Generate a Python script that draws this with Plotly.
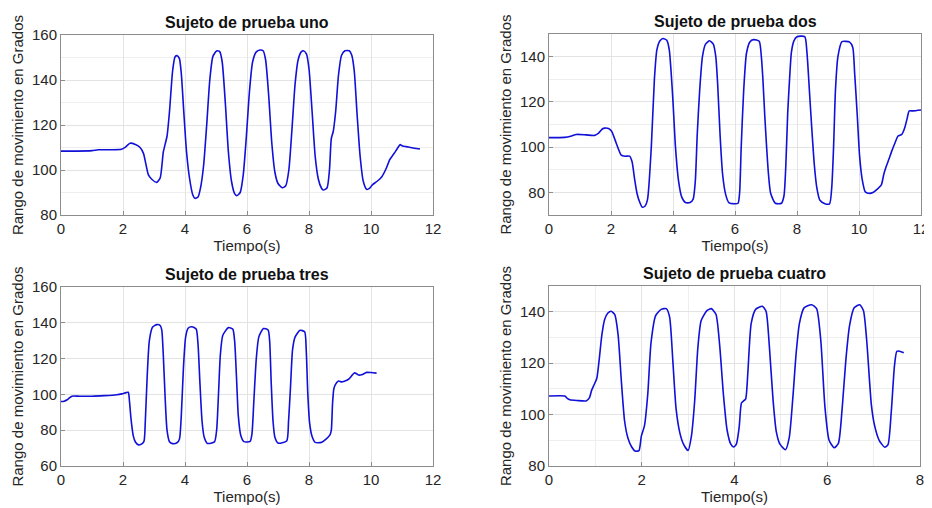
import plotly.graph_objects as go

# ---------------- data ----------------
t1 = [0, 0.5, 1.0, 1.2, 1.6, 1.95, 2.08, 2.23, 2.4, 2.55, 2.66, 2.74, 2.82, 2.92, 3.09, 3.2, 3.3, 3.36, 3.42, 3.5, 3.6, 3.68, 3.75, 3.82, 3.88, 3.96, 4.05, 4.15, 4.25, 4.32, 4.42, 4.5, 4.6, 4.7, 4.8, 4.9, 5.02, 5.12, 5.2, 5.3, 5.4, 5.5, 5.6, 5.67, 5.78, 5.88, 5.98, 6.08, 6.18, 6.3, 6.42, 6.52, 6.6, 6.7, 6.8, 6.9, 7.0, 7.14, 7.25, 7.35, 7.45, 7.55, 7.65, 7.75, 7.82, 7.92, 8.0, 8.1, 8.2, 8.3, 8.4, 8.46, 8.58, 8.66, 8.72, 8.78, 8.86, 8.95, 9.05, 9.16, 9.3, 9.38, 9.46, 9.55, 9.65, 9.75, 9.86, 9.95, 10.05, 10.2, 10.35, 10.5, 10.6, 10.7, 10.8, 10.88, 10.94, 11.0, 11.2, 11.4, 11.58]
v1 = [108.4, 108.4, 108.6, 109.0, 109.0, 109.2, 110.2, 111.9, 111.3, 110.0, 107.4, 102.5, 97.8, 96.0, 94.5, 96.5, 108.0, 111.5, 115.0, 126.0, 144.0, 150.3, 150.8, 149.5, 143.0, 126.0, 108.0, 96.0, 89.0, 87.4, 88.0, 92.0, 102.0, 120.0, 140.0, 150.5, 152.9, 152.6, 148.0, 130.0, 108.0, 95.0, 89.5, 88.6, 90.0, 98.0, 115.0, 135.0, 148.0, 152.5, 153.3, 153.0, 149.0, 133.0, 112.0, 99.0, 94.0, 92.1, 93.0, 100.0, 118.0, 138.0, 149.0, 152.5, 153.0, 151.5, 145.0, 126.0, 106.0, 96.0, 92.0, 91.1, 92.0, 100.0, 114.0, 117.0, 126.0, 142.0, 151.0, 153.0, 153.0, 151.0, 144.0, 125.0, 106.0, 95.0, 91.4, 91.8, 93.5, 95.0, 97.0, 101.0, 104.5, 106.5, 108.5, 110.2, 111.3, 110.8, 110.2, 109.7, 109.3]

t2 = [0, 0.5, 0.7, 0.88, 1.2, 1.47, 1.6, 1.72, 1.8, 1.92, 2.02, 2.17, 2.33, 2.45, 2.6, 2.68, 2.76, 2.84, 2.93, 3.01, 3.1, 3.18, 3.3, 3.4, 3.48, 3.58, 3.68, 3.8, 3.88, 3.94, 4.0, 4.08, 4.18, 4.28, 4.4, 4.55, 4.65, 4.72, 4.78, 4.86, 4.95, 5.05, 5.18, 5.3, 5.38, 5.44, 5.52, 5.6, 5.7, 5.8, 6.0, 6.1, 6.15, 6.2, 6.28, 6.37, 6.48, 6.6, 6.78, 6.85, 6.9, 6.96, 7.02, 7.08, 7.15, 7.3, 7.5, 7.58, 7.64, 7.7, 7.76, 7.82, 7.9, 8.0, 8.25, 8.32, 8.4, 8.48, 8.56, 8.64, 8.74, 8.9, 9.05, 9.12, 9.18, 9.24, 9.32, 9.45, 9.7, 9.8, 9.86, 9.94, 10.02, 10.1, 10.2, 10.3, 10.45, 10.58, 10.72, 10.8, 10.88, 10.96, 11.05, 11.15, 11.26, 11.38, 11.47, 11.55, 11.62, 11.74, 12.0]
v2 = [104.2, 104.3, 104.8, 105.6, 105.4, 105.2, 106.2, 108.0, 108.4, 108.2, 107.0, 101.7, 96.5, 96.0, 96.0, 93.5, 86.0, 79.5, 75.5, 73.4, 74.0, 77.0, 100.0, 130.0, 143.0, 147.0, 148.0, 147.2, 143.0, 133.0, 120.0, 100.0, 85.0, 78.0, 75.5, 75.5, 77.0, 85.0, 105.0, 125.0, 140.0, 145.5, 147.0, 145.5, 140.0, 128.0, 105.0, 88.0, 79.0, 75.5, 75.0, 75.2, 80.0, 100.0, 125.0, 141.5, 146.5, 147.5, 146.8, 140.0, 130.0, 114.0, 100.0, 88.0, 79.6, 75.2, 75.2, 78.5, 92.0, 115.0, 130.0, 142.0, 147.0, 148.8, 148.8, 142.0, 125.0, 107.6, 92.0, 82.0, 76.5, 75.0, 74.9, 82.0, 100.0, 125.0, 140.0, 146.6, 146.4, 144.0, 132.6, 115.0, 96.0, 86.0, 80.3, 79.6, 79.9, 81.3, 83.3, 88.0, 91.5, 94.5, 98.0, 101.5, 104.9, 105.6, 108.3, 112.5, 116.0, 116.0, 116.4]

t3 = [0, 0.1, 0.2, 0.27, 0.35, 0.6, 1.0, 1.4, 1.8, 1.96, 2.1, 2.17, 2.21, 2.26, 2.33, 2.4, 2.5, 2.62, 2.68, 2.72, 2.78, 2.85, 2.95, 3.09, 3.2, 3.25, 3.3, 3.36, 3.42, 3.5, 3.6, 3.74, 3.82, 3.88, 3.95, 4.02, 4.1, 4.22, 4.36, 4.42, 4.48, 4.55, 4.62, 4.72, 4.95, 5.02, 5.08, 5.14, 5.22, 5.4, 5.54, 5.6, 5.66, 5.72, 5.8, 5.9, 6.1, 6.16, 6.22, 6.3, 6.38, 6.53, 6.68, 6.73, 6.78, 6.84, 6.9, 7.0, 7.28, 7.34, 7.4, 7.47, 7.55, 7.71, 7.86, 7.91, 7.96, 8.02, 8.1, 8.2, 8.4, 8.55, 8.68, 8.72, 8.76, 8.8, 8.85, 8.95, 9.05, 9.22, 9.3, 9.38, 9.46, 9.54, 9.6, 9.7, 9.86, 10.0, 10.18]
v3 = [96.0, 96.2, 97.0, 98.0, 99.0, 99.0, 99.0, 99.3, 99.8, 100.3, 101.0, 101.2, 96.0, 86.0, 77.0, 73.4, 71.8, 72.5, 74.0, 85.0, 110.0, 130.0, 137.5, 139.0, 138.5, 136.0, 122.0, 98.0, 80.0, 73.5, 72.5, 73.0, 75.0, 88.0, 115.0, 132.0, 137.0, 137.8, 136.5, 128.0, 107.0, 85.0, 76.0, 72.6, 73.5, 80.0, 100.0, 122.0, 133.0, 137.3, 136.5, 130.0, 110.0, 88.0, 77.0, 73.6, 73.8, 78.0, 96.0, 120.0, 132.0, 136.8, 136.0, 130.0, 107.0, 85.0, 76.0, 72.8, 74.0, 85.0, 103.0, 125.0, 132.0, 135.8, 135.0, 125.0, 101.0, 84.0, 76.5, 73.2, 73.2, 75.0, 77.5, 80.0, 95.0, 103.0, 105.5, 107.5, 107.0, 107.9, 108.8, 110.5, 112.0, 111.5, 110.8, 111.0, 112.3, 112.2, 111.9]

t4 = [0, 0.34, 0.4, 0.45, 0.6, 0.8, 0.87, 0.92, 0.97, 1.03, 1.08, 1.14, 1.2, 1.27, 1.34, 1.42, 1.49, 1.56, 1.63, 1.7, 1.78, 1.86, 1.94, 1.99, 2.06, 2.13, 2.2, 2.3, 2.42, 2.53, 2.6, 2.67, 2.74, 2.82, 2.9, 3.0, 3.07, 3.14, 3.21, 3.28, 3.4, 3.5, 3.6, 3.68, 3.76, 3.84, 3.92, 3.98, 4.04, 4.1, 4.15, 4.2, 4.24, 4.29, 4.36, 4.46, 4.6, 4.68, 4.75, 4.83, 4.9, 4.98, 5.1, 5.18, 5.26, 5.33, 5.4, 5.5, 5.66, 5.77, 5.86, 5.95, 6.04, 6.15, 6.24, 6.32, 6.4, 6.48, 6.58, 6.7, 6.78, 6.85, 6.95, 7.02, 7.12, 7.24, 7.31, 7.38, 7.45, 7.5, 7.56, 7.65]
v4 = [107.2, 107.2, 106.2, 105.8, 105.5, 105.3, 106.5, 109.5, 111.5, 114.0, 121.0, 131.0, 137.0, 139.5, 140.2, 138.8, 131.0, 113.0, 97.5, 91.0, 87.5, 85.8, 86.0, 91.5, 95.8, 108.0, 128.0, 138.5, 140.9, 141.2, 138.0, 121.0, 102.3, 93.0, 88.5, 86.0, 91.5, 105.0, 126.0, 136.5, 140.3, 141.2, 139.0, 127.0, 108.0, 94.0, 88.5, 87.4, 88.5, 95.0, 104.5, 105.4, 106.0, 117.0, 135.5, 141.0, 142.1, 140.2, 127.0, 106.0, 93.5, 88.5, 86.3, 91.0, 107.0, 124.0, 135.5, 141.5, 142.7, 141.2, 129.0, 103.0, 90.0, 87.1, 88.8, 102.0, 121.0, 134.5, 141.5, 142.7, 140.5, 129.0, 104.0, 95.8, 90.0, 87.3, 88.3, 101.0, 119.0, 124.6, 124.6, 124.0]

titles = ["Sujeto de prueba uno", "Sujeto de prueba dos", "Sujeto de prueba tres", "Sujeto de prueba cuatro"]
x_label = "Tiempo(s)"
y_label = "Rango de movimiento en Grados"

series = [(t1, v1), (t2, v2), (t3, v3), (t4, v4)]
x_ranges = [[0, 12], [0, 12], [0, 12], [0, 8]]
y_ranges = [[80, 160], [70, 150], [60, 160], [80, 150]]
x_minor = [False, False, False, True]
y_minor = [True, True, False, True]

# ---------------- layout ----------------
# The page body adds an 8px margin; the figure is sized to fit inside it.
OFF = 8
W, H = 932 - OFF, 508 - OFF
boxes = [  # left, top, right, bottom in window pixels
    (61, 35, 433, 215),
    (549, 34, 921, 215),
    (61, 287, 433, 466),
    (549, 286, 920, 466),
]

FONT = "Liberation Sans, Arial, Helvetica, sans-serif"
TXT = "#262626"
GRID = "#e3e3e3"
AX = "#8c8c8c"

fig = go.Figure()
annotations = []
for i, ((t, v), (l, tp, r, b)) in enumerate(zip(series, boxes)):
    l, tp, r, b = l - OFF, tp - OFF, r - OFF, b - OFF
    n = "" if i == 0 else str(i + 1)
    fig.add_trace(go.Scatter(
        x=t, y=v, mode="lines",
        line=dict(color="#1010d8", width=1.6, shape="spline", smoothing=0.6),
        xaxis="x" + n, yaxis="y" + n, showlegend=False, hoverinfo="skip"))
    xd = [l / W, r / W]
    yd = [1 - b / H, 1 - tp / H]
    xa = dict(domain=xd, range=x_ranges[i], anchor="y" + n, dtick=2, tick0=0,
              automargin=False,
              showgrid=True, gridcolor=GRID, gridwidth=1,
              showline=True, mirror=True, linecolor=AX, linewidth=1,
              ticks="inside", ticklen=4, tickcolor=AX, zeroline=False,
              tickfont=dict(family=FONT, size=15, color=TXT),
              title=dict(text=x_label, font=dict(family=FONT, size=15, color=TXT), standoff=2))
    if x_minor[i]:
        xa["minor"] = dict(dtick=1, tick0=0, showgrid=True, gridcolor="#eeeeee", ticks="")
    ya = dict(domain=yd, range=y_ranges[i], anchor="x" + n, dtick=20, tick0=80,
              automargin=False,
              showgrid=True, gridcolor=GRID, gridwidth=1,
              showline=True, mirror=True, linecolor=AX, linewidth=1,
              ticks="inside", ticklen=4, tickcolor=AX, zeroline=False,
              tickfont=dict(family=FONT, size=15, color=TXT),
              title=dict(text=y_label, font=dict(family=FONT, size=15, color=TXT), standoff=4))
    if y_minor[i]:
        ya["minor"] = dict(dtick=10, tick0=80, showgrid=True, gridcolor="#eeeeee", ticks="")
    fig.update_layout(**{"xaxis" + n: xa, "yaxis" + n: ya})
    annotations.append(dict(
        text="<b>" + titles[i] + "</b>", x=(l + r) / 2 / W, y=1 - (tp - 2) / H,
        xref="paper", yref="paper", xanchor="center", yanchor="bottom",
        showarrow=False, font=dict(family=FONT, size=16, color="#111111")))

fig.update_layout(
    width=W, height=H, margin=dict(l=0, r=0, t=0, b=0, autoexpand=False),
    paper_bgcolor="white", plot_bgcolor="white",
    annotations=annotations, showlegend=False)

fig.write_html("out.html")
